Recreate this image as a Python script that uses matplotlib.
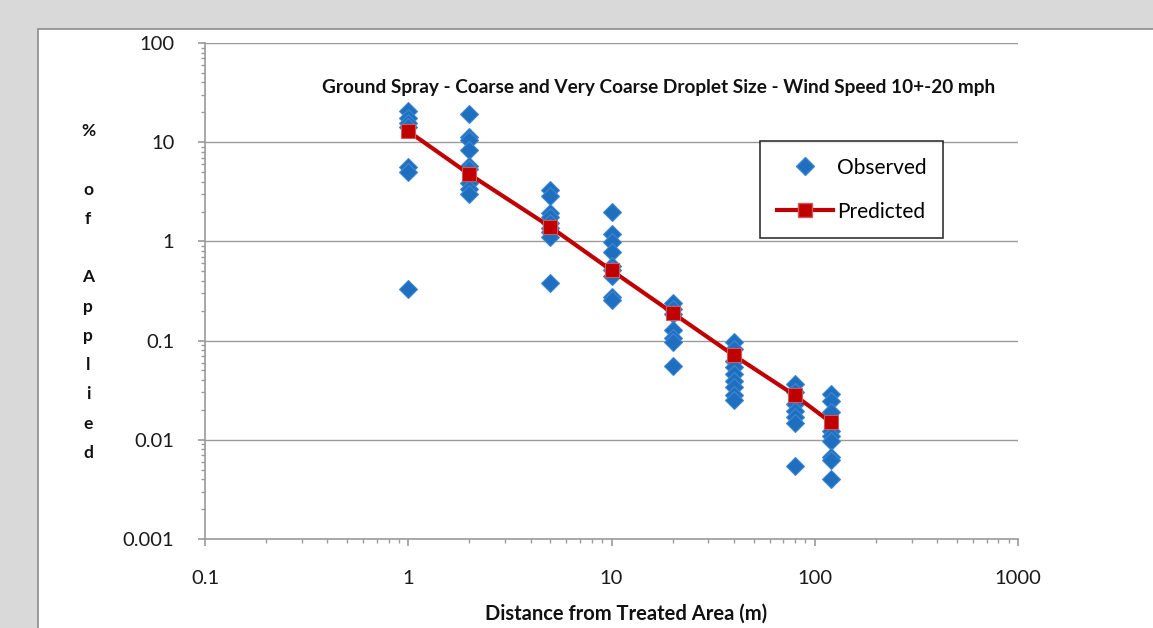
import numpy as np
import matplotlib
matplotlib.use("Agg")
import matplotlib.pyplot as plt
from matplotlib.patches import Rectangle
from matplotlib.lines import Line2D
from matplotlib.ticker import LogLocator, NullFormatter, FixedLocator, FixedFormatter

plt.rcParams['font.family'] = ['Lato', 'DejaVu Sans']

# observed deposition (% of applied) per distance column
dist_obs = [1] * 7 + [2] * 9 + [5] * 9 + [10] * 9 + [20] * 7 + [40] * 9 + [80] * 7 + [120] * 9
pct_obs = [20.6, 17.5, 15.5, 14.2, 5.6, 5.0, 0.33,
           19.2, 11.2, 10.5, 8.3, 5.7, 5.4, 3.85, 3.4, 3.0,
           3.27, 2.9, 1.92, 1.75, 1.55, 1.38, 1.23, 1.1, 0.385,
           2.0, 1.2, 0.98, 0.78, 0.57, 0.51, 0.45, 0.275, 0.254,
           0.242, 0.21, 0.187, 0.129, 0.107, 0.096, 0.056,
           0.096, 0.082, 0.063, 0.054, 0.046, 0.039, 0.034, 0.028, 0.025,
           0.0365, 0.030, 0.023, 0.0196, 0.0168, 0.0149, 0.0055,
           0.029, 0.0248, 0.0189, 0.0123, 0.011, 0.0098, 0.0067, 0.0062, 0.004]

# predicted curve
dist_pred = [1, 2, 5, 10, 20, 40, 80, 120]
pct_pred = [12.9, 4.75, 1.4, 0.51, 0.19, 0.071, 0.028, 0.015]

x_ticks = [0.1, 1, 10, 100, 1000]
x_labels = ["0.1", "1", "10", "100", "1000"]
y_ticks = [0.001, 0.01, 0.1, 1, 10, 100]
y_labels = ["0.001", "0.01", "0.1", "1", "10", "100"]

title = "Ground Spray - Coarse and Very Coarse Droplet Size - Wind Speed 10+-20 mph"
xlabel = "Distance from Treated Area (m)"
ylabel = "%\n\no\nf\n\nA\np\np\nl\ni\ne\nd"

W, H = 1153, 628
fig = plt.figure(figsize=(W / 100, H / 100), dpi=100)
fig.patch.set_facecolor("#d9d9d9")

# white chart area with grey border
fig.patches.append(Rectangle((38 / W, -0.1), 1.2, (H - 29) / H + 0.1,
                             transform=fig.transFigure, facecolor="white",
                             edgecolor="#8c8c8c", linewidth=1.2, zorder=0))

ax = fig.add_axes([205 / W, (H - 539) / H, (1018 - 205) / W, (539 - 43) / H])
ax.set_facecolor("white")
ax.set_xscale("log")
ax.set_yscale("log")
ax.set_xlim(0.1, 1000)
ax.set_ylim(0.001, 100)

grid_c = "#9a9a9a"
for v in y_ticks[1:]:
    ax.axhline(v, color=grid_c, linewidth=1.0, zorder=1)

for s in ["top", "right"]:
    ax.spines[s].set_visible(False)
for s in ["left", "bottom"]:
    ax.spines[s].set_color(grid_c)
    ax.spines[s].set_linewidth(1.2)

ax.xaxis.set_major_locator(FixedLocator(x_ticks))
ax.xaxis.set_major_formatter(FixedFormatter(x_labels))
ax.yaxis.set_major_locator(FixedLocator(y_ticks))
ax.yaxis.set_major_formatter(FixedFormatter(y_labels))
ax.xaxis.set_minor_locator(LogLocator(base=10, subs=np.arange(2, 10)))
ax.yaxis.set_minor_locator(LogLocator(base=10, subs=np.arange(2, 10)))
ax.xaxis.set_minor_formatter(NullFormatter())
ax.yaxis.set_minor_formatter(NullFormatter())
ax.tick_params(which="major", direction="out", length=5, width=1.2, color=grid_c,
               labelsize=14.5, labelcolor="#1a1a1a")
ax.tick_params(which="minor", direction="out", length=3, width=1.0, color=grid_c)
ax.tick_params(axis="x", which="major", pad=17)
ax.tick_params(axis="y", which="major", pad=17)

obs_c = "#1f6fc0"
pred_c = "#c00000"
ax.plot(dist_obs, pct_obs, linestyle="none", marker="D", markersize=9,
        markerfacecolor=obs_c, markeredgecolor="#3f88d0", markeredgewidth=0.8,
        zorder=3, label="Observed")
ax.plot(dist_pred, pct_pred, color=pred_c, linewidth=3, marker="s", markersize=9.5,
        markerfacecolor=pred_c, markeredgecolor="#d05a5a", markeredgewidth=0.8,
        zorder=4, label="Predicted")
ax.set_zorder(2)

ax.text((659 - 205) / (1018 - 205), 1 - (88 - 43) / (539 - 43), title,
        transform=ax.transAxes, ha="center", va="center",
        fontsize=13.7, fontweight="bold", color="#111111")

fig.text(626 / W, 1 - 614 / H, xlabel, ha="center", va="center",
         fontsize=14.5, fontweight="bold", color="#111111")
fig.text(88 / W, 1 - 292 / H, ylabel, ha="center", va="center",
         fontsize=12.5, fontweight="bold", color="#111111", linespacing=2.02)

# legend
handles = [Line2D([], [], linestyle="none", marker="D", markersize=9,
                  markerfacecolor=obs_c, markeredgecolor="#3f88d0"),
           Line2D([], [], color=pred_c, linewidth=3, marker="s", markersize=9.5,
                  markerfacecolor=pred_c, markeredgecolor="#d05a5a")]
leg = ax.legend(handles, ["Observed", "Predicted"], loc="upper left",
                bbox_to_anchor=((760 - 205) / (1018 - 205), 1 - (141 - 43) / (539 - 43)),
                frameon=True, fancybox=False, edgecolor="black", fontsize=15,
                handlelength=2.7, labelspacing=1.15, borderpad=0.8, handletextpad=0.2,
                borderaxespad=0, handleheight=0.8)
leg.get_frame().set_linewidth(1.2)

fig.savefig("out.png", dpi=100, facecolor=fig.get_facecolor())
